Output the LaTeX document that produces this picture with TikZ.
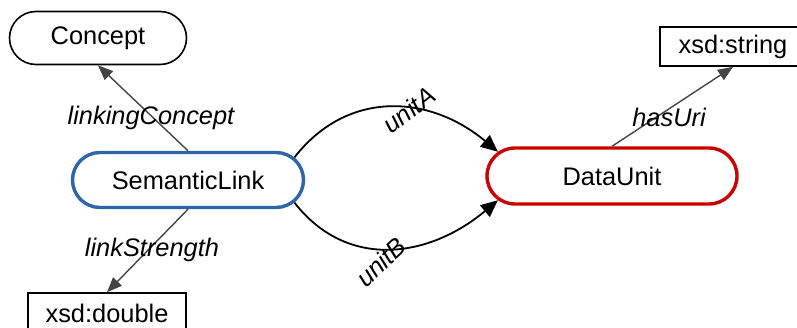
\documentclass[tikz,border=0pt]{standalone}
\usepackage{fontspec}
\setmainfont{Liberation Sans}
\usetikzlibrary{shapes.misc}
\usetikzlibrary{arrows.meta}
\definecolor{linkblue}{RGB}{45,100,170}
\definecolor{unitred}{RGB}{200,0,0}
\definecolor{propgray}{RGB}{68,68,68}

\begin{document}
\begin{tikzpicture}[x=0.5pt,y=0.5pt,
    font=\fontsize{12.7}{15}\selectfont,
    cls/.style={draw,rounded rectangle,inner sep=0pt},
    lit/.style={draw,rectangle,inner sep=0pt,line width=0.8pt},
    prop/.style={draw=propgray,line width=0.7pt,-{Triangle[length=7.5pt,width=6pt]}},
    rel/.style={draw,line width=0.9pt,-{Triangle[length=8.5pt,width=7.5pt]}},
    lbl/.style={font=\fontsize{12.7}{15}\selectfont\itshape}]
  \useasboundingbox (0,0) rectangle (797,327);
  \node (concept) at (98,289) [cls,line width=0.8pt,minimum width=88.5pt,minimum height=26.5pt] {Concept};
  \node (link) at (188,147) [cls,draw=linkblue,line width=1.7pt,minimum width=115.5pt,minimum height=27.5pt] {SemanticLink};
  \node (unit) at (612,151) [cls,draw=unitred,line width=1.7pt,minimum width=125pt,minimum height=28pt] {DataUnit};
  \node (dbl) at (107,14) [lit,minimum width=79pt,minimum height=20pt] {xsd:double};
  \node (str) at (733,280.5) [lit,minimum width=73pt,minimum height=19.5pt] {xsd:string};
  \draw[prop] (link.north) -- (concept.south);
  \draw[prop] (link.south) -- (dbl.north);
  \draw[prop] (unit.north) -- (str.south);
  \draw[rel] (link.12) to[out=52,in=140,looseness=1.1] (unit.168);
  \draw[rel] (link.-12) to[out=-52,in=-140,looseness=1.1] (unit.-168);
  \node (lconcept) at (151,209) [lbl] {linkingConcept};
  \node (lstrength) at (152,77) [lbl] {linkStrength};
  \node (luri) at (669,210) [lbl] {hasUri};
  \node (lunita) at (409,217) [lbl,rotate=38] {unitA};
  \node (lunitb) at (381,65) [lbl,rotate=43] {unitB};
\end{tikzpicture}
\end{document}
